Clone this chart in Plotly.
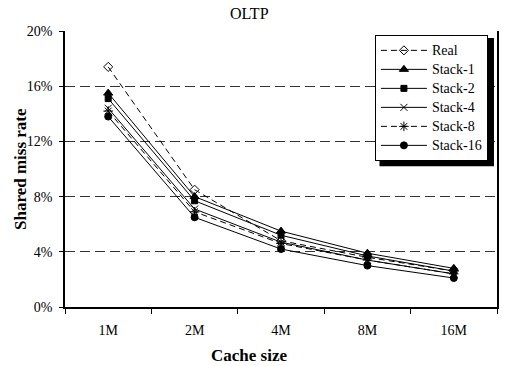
import plotly.graph_objects as go

cache_sizes = ["1M", "2M", "4M", "8M", "16M"]

real = [17.4, 8.5, 4.8, 3.6, 2.6]
stack_1 = [15.5, 8.0, 5.5, 3.9, 2.8]
stack_2 = [15.1, 7.7, 5.2, 3.7, 2.6]
stack_4 = [14.4, 7.1, 4.7, 3.4, 2.4]
stack_8 = [14.2, 6.9, 4.6, 3.4, 2.4]
stack_16 = [13.8, 6.5, 4.2, 3.0, 2.1]

series = [
    ("Real", real, "6px,4px", "diamond-open", 7),
    ("Stack-1", stack_1, "solid", "triangle-up", 8),
    ("Stack-2", stack_2, "solid", "square", 6),
    ("Stack-4", stack_4, "solid", "x-thin-open", 7),
    ("Stack-8", stack_8, "6px,4px", "asterisk-open", 8),
    ("Stack-16", stack_16, "solid", "circle", 7),
]

FONT = "Liberation Serif, DejaVu Serif, serif"

fig = go.Figure()
for name, vals, dash, symbol, size in series:
    fig.add_trace(go.Scatter(
        x=cache_sizes, y=vals, mode="lines+markers",
        name='<span style="font-size:14px">%s</span>' % name,
        line=dict(color="black", width=1, dash=dash),
        marker=dict(symbol=symbol, size=size, color="black",
                    line=dict(color="black", width=1)),
    ))

# legend drop shadow (sits behind the legend box)
fig.add_shape(type="rect", xref="paper", yref="paper",
              x0=0.728, x1=0.993, y0=0.51, y1=0.975,
              fillcolor="black", line=dict(width=0), layer="above")

fig.update_layout(
    width=521, height=366,
    margin=dict(l=65, r=24, t=31, b=59),
    paper_bgcolor="white", plot_bgcolor="white",
    font=dict(family=FONT, color="black", size=14),
    showlegend=True,
    legend=dict(x=0.979, y=0.986, xanchor="right", yanchor="top",
                bgcolor="white", bordercolor="black", borderwidth=1,
                font=dict(family=FONT, size=12), tracegroupgap=0,
                itemwidth=46),
    xaxis=dict(type="category", range=[-0.5, 4.5], showline=True,
               linecolor="black", linewidth=1.5,
               ticks="outside", ticklen=5, tickcolor="black", tickson="boundaries",
               ticklabelstandoff=9,
               showgrid=False, tickfont=dict(size=14, family=FONT)),
    yaxis=dict(range=[0, 20], dtick=4, ticksuffix="%", showline=True,
               linecolor="black", linewidth=1.5, mirror=True,
               ticks="outside", ticklen=4, tickcolor="black", ticklabelstandoff=4,
               showgrid=True, gridcolor="#333333", gridwidth=1, griddash="10px,5px",
               zeroline=False, tickfont=dict(size=14, family=FONT)),
    annotations=[
        dict(text="OLTP", xref="paper", yref="paper", x=0.428, y=1.0,
             xanchor="center", yanchor="middle",
             yshift=18, showarrow=False, font=dict(size=16, family=FONT)),
        dict(text="<b>Cache size</b>", xref="paper", yref="paper", x=0.425, y=0,
             xanchor="center", yanchor="middle",
             yshift=-48, showarrow=False, font=dict(size=17, family=FONT)),
        dict(text="<b>Shared miss rate</b>", xref="paper", yref="paper", x=0, y=0.5,
             xanchor="center", yanchor="middle",
             xshift=-45, textangle=-90, showarrow=False,
             font=dict(size=17, family=FONT)),
    ],
)

fig.write_html("out.html")
